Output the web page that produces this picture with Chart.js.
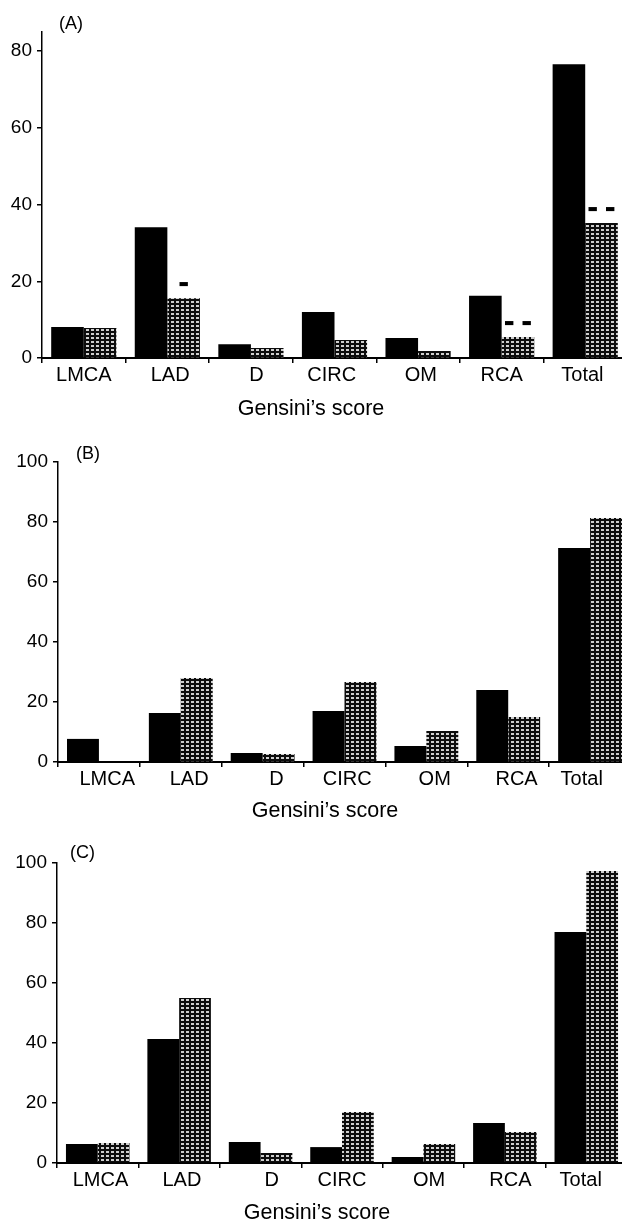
<!DOCTYPE html>
<html>
<head>
<meta charset="utf-8">
<script src="https://cdn.jsdelivr.net/npm/chart.js@4.4.1/dist/chart.umd.min.js"></script>
<style>
html,body{margin:0;padding:0;background:#fff;width:622px;height:1223px;overflow:hidden;position:relative}
canvas{position:absolute;left:0}
.t{position:absolute;font-family:"Liberation Sans",Arial,Helvetica,sans-serif;color:#000;line-height:1;white-space:nowrap}
.cap{width:220px;text-align:center;font-size:21.5px}
.pl{font-size:18px}
</style>
</head>
<body>
<canvas id="cA" width="640" height="400" style="top:0px;width:640px;height:400px"></canvas>
<canvas id="cB" width="640" height="380" style="top:420px;width:640px;height:380px"></canvas>
<canvas id="cC" width="640" height="380" style="top:830px;width:640px;height:380px"></canvas>

<div class="t pl" style="left:59px;top:14px">(A)</div>
<div class="t pl" style="left:76px;top:444px">(B)</div>
<div class="t pl" style="left:70px;top:843px">(C)</div>

<div class="t cap" style="left:201px;top:398px">Gensini’s score</div>
<div class="t cap" style="left:215px;top:800px">Gensini’s score</div>
<div class="t cap" style="left:207px;top:1202px">Gensini’s score</div>

<script>
// ---- data ----
const categories = ['LMCA', 'LAD', 'D', 'CIRC', 'OM', 'RCA', 'Total'];
const yTicksA = [0, 20, 40, 60, 80];
const yTicksBC = [0, 20, 40, 60, 80, 100];

const blackA = [8.1, 34.1, 3.6, 12.0, 5.2, 16.2, 76.6];
const grayA  = [7.8, 15.6, 2.6, 4.7, 1.8, 5.5, 35.2];
const marksA = ['', '▬', '', '', '', '▬  ▬', '▬  ▬'];

const blackB = [7.7, 16.3, 3.0, 17.0, 5.3, 24.0, 71.3];
const grayB  = [0, 28.0, 2.7, 26.7, 10.3, 15.0, 81.3];

const blackC = [6.3, 41.3, 7.0, 5.3, 2.0, 13.3, 77.0];
const grayC  = [6.7, 55.0, 3.3, 17.0, 6.3, 10.3, 97.3];

// ---- layout / style ----
const FONT = '"Liberation Sans", Arial, Helvetica, sans-serif';
const panels = [
  {id:'cA', black:blackA, gray:grayA, marks:marksA, max:85, ticks:yTicksA,
   yW:42, padTop:32, xH:42, padRight:13, nudge:[0,1,2,-1,1,0,-1]},
  {id:'cB', black:blackB, gray:grayB, marks:[], max:100, ticks:yTicksBC,
   yW:58, padTop:42, xH:38, padRight:9, nudge:[3,3,5,1,3,3,-3]},
  {id:'cC', black:blackC, gray:grayC, marks:[], max:100, ticks:yTicksBC,
   yW:57, padTop:33, xH:47, padRight:13, nudge:[1,1,4,0,2,2,-2]}
];

function makePattern(ctx) {
  const c = document.createElement('canvas');
  c.width = 5; c.height = 4;
  const g = c.getContext('2d');
  g.fillStyle = '#0d0d0d';
  g.fillRect(0, 0, 5, 4);
  g.fillStyle = '#cfcfcf';
  g.fillRect(1, 1, 3, 2);
  return ctx.createPattern(c, 'repeat');
}

const markPlugin = {
  id: 'marks',
  afterDatasetsDraw(chart, args, opts) {
    const marks = opts.marks || [];
    const meta = chart.getDatasetMeta(1);
    const ctx = chart.ctx;
    ctx.save();
    ctx.font = '11px "DejaVu Sans"';
    ctx.textAlign = 'center';
    ctx.textBaseline = 'middle';
    ctx.fillStyle = '#000';
    marks.forEach((m, i) => {
      if (!m) return;
      const el = meta.data[i];
      ctx.fillText(m, el.x, el.y - 14);
    });
    ctx.restore();
  }
};

panels.forEach(p => {
  const canvas = document.getElementById(p.id);
  const ctx = canvas.getContext('2d');
  const pattern = makePattern(ctx);
  new Chart(ctx, {
    type: 'bar',
    data: {
      labels: categories,
      datasets: [
        {data: p.black, backgroundColor: '#000', borderWidth: 0,
         categoryPercentage: 0.78, barPercentage: 1.0},
        {data: p.gray, backgroundColor: pattern, borderWidth: 0,
         categoryPercentage: 0.78, barPercentage: 1.0}
      ]
    },
    plugins: [markPlugin],
    options: {
      responsive: false,
      animation: false,
      events: [],
      layout: {padding: {top: p.padTop, right: p.padRight, left: 0, bottom: 0}},
      plugins: {
        legend: {display: false},
        tooltip: {enabled: false},
        title: {display: false},
        marks: {marks: p.marks}
      },
      scales: {
        x: {
          grid: {display: true, offset: true, drawOnChartArea: false, drawTicks: true,
                 tickLength: 5, tickColor: '#000', color: '#000', lineWidth: 1.5},
          border: {display: true, color: '#000', width: 2},
          ticks: {
            color: '#000', font: {family: FONT, size: 20}, padding: 0,
            maxRotation: 0, autoSkip: false,
            callback: (v, i) => {
              const n = p.nudge[i];
              const s = ' '.repeat(Math.abs(n));
              return n > 0 ? s + categories[i] : categories[i] + s;
            }
          },
          afterFit: s => { s.height = p.xH; }
        },
        y: {
          min: 0, max: p.max,
          grid: {display: true, drawOnChartArea: false, drawTicks: true,
                 tickLength: 5, tickColor: '#000', color: '#000', lineWidth: 1.5},
          border: {display: true, color: '#000', width: 1.5},
          ticks: {color: '#000', font: {family: FONT, size: 19}, padding: 5,
                  stepSize: 20, includeBounds: false},
          afterBuildTicks: s => { s.ticks = p.ticks.map(v => ({value: v})); },
          afterFit: s => { s.width = p.yW; }
        }
      }
    }
  });
});
</script>
</body>
</html>
